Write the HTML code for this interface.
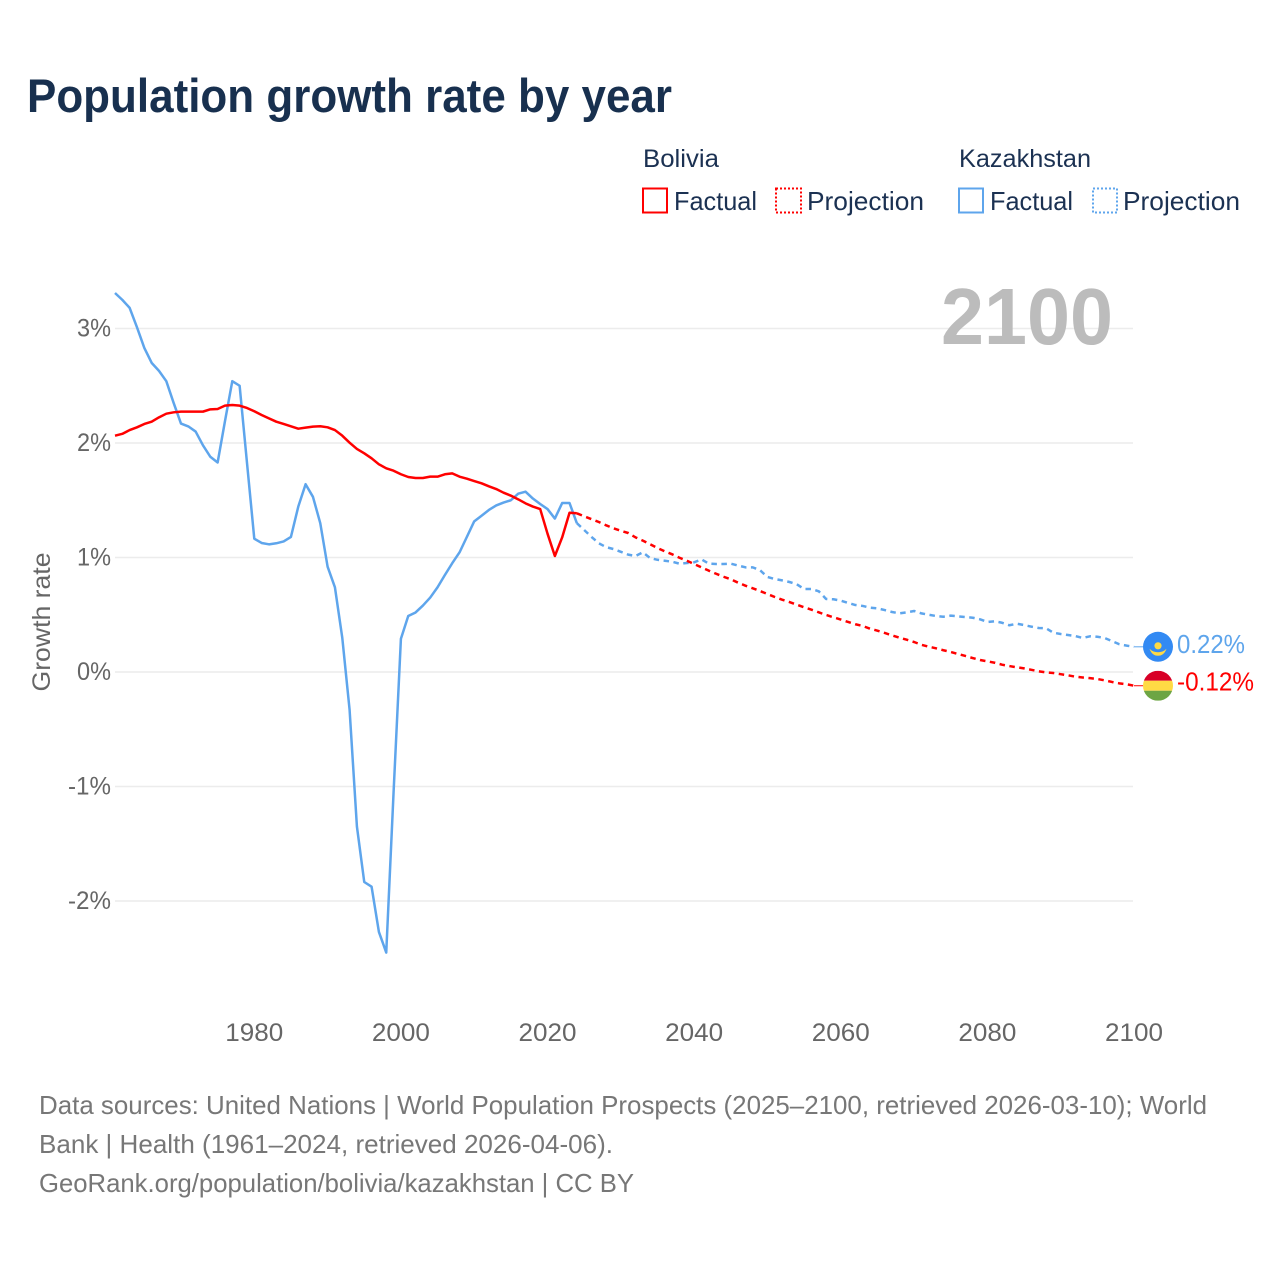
<!DOCTYPE html>
<html lang="en">
<head>
<meta charset="utf-8">
<title>Population growth rate by year</title>
<style>
html,body{margin:0;padding:0;background:#fff}
svg{display:block;font-family:"Liberation Sans",sans-serif}
</style>
</head>
<body>
<svg id="chart" xmlns="http://www.w3.org/2000/svg" width="1280" height="1280" viewBox="0 0 1280 1280">
  <rect width="1280" height="1280" fill="#fff"/>
  <text x="27" y="112" font-size="47" font-weight="700" fill="#18304f" textLength="645" lengthAdjust="spacingAndGlyphs">Population growth rate by year</text>

  <text x="643" y="167" font-size="25" fill="#1b3152" textLength="76" lengthAdjust="spacingAndGlyphs">Bolivia</text>
  <text x="959" y="167" font-size="25" fill="#1b3152" textLength="132" lengthAdjust="spacingAndGlyphs">Kazakhstan</text>
  <rect x="643" y="188.5" width="24" height="24" fill="none" stroke="#ff0000" stroke-width="2"/>
  <text x="674" y="210" font-size="26" fill="#1b3152" textLength="83" lengthAdjust="spacingAndGlyphs">Factual</text>
  <rect x="776" y="188.5" width="25" height="24" fill="none" stroke="#ff0000" stroke-width="2" stroke-dasharray="2,2"/>
  <text x="807" y="210" font-size="26" fill="#1b3152" textLength="117" lengthAdjust="spacingAndGlyphs">Projection</text>
  <rect x="959" y="188.5" width="24" height="24" fill="none" stroke="#5ea5ec" stroke-width="2"/>
  <text x="990" y="210" font-size="26" fill="#1b3152" textLength="83" lengthAdjust="spacingAndGlyphs">Factual</text>
  <rect x="1093" y="188.5" width="24" height="24" fill="none" stroke="#5ea5ec" stroke-width="2" stroke-dasharray="2,2"/>
  <text x="1123" y="210" font-size="26" fill="#1b3152" textLength="117" lengthAdjust="spacingAndGlyphs">Projection</text>

  <g id="grid"></g>
  <g id="axis-labels"></g>

  <text x="941" y="344" font-size="80" font-weight="700" fill="#bcbcbc" textLength="172" lengthAdjust="spacingAndGlyphs">2100</text>
  <text transform="translate(50,622) rotate(-90)" text-anchor="middle" font-size="25" fill="#666" textLength="139" lengthAdjust="spacingAndGlyphs">Growth rate</text>

  <g id="series"></g>

  <defs>
    <clipPath id="flag-clip-bo"><circle cx="0" cy="0" r="15"/></clipPath>
  </defs>
  <g id="flag-kz">
    <circle r="15" fill="#338af3"/>
    <circle cx="0" cy="-1" r="3.6" fill="#ffda44"/>
    <path d="M-8.5 2 Q-5 5.5 0 5.5 Q5 5.5 8.5 2 Q6 9 0 9 Q-6 9 -8.5 2Z" fill="#ffda44"/>
  </g>
  <g id="flag-bo">
    <g clip-path="url(#flag-clip-bo)">
      <rect x="-15" y="-15" width="30" height="10" fill="#d80027"/>
      <rect x="-15" y="-5" width="30" height="10" fill="#ffda44"/>
      <rect x="-15" y="5" width="30" height="10" fill="#6da544"/>
    </g>
  </g>
  <text id="value-kz" x="1177" font-size="25.5" fill="#5ea5ec" textLength="68" lengthAdjust="spacingAndGlyphs"></text>
  <text id="value-bo" x="1177" font-size="25.5" fill="#ff0000" textLength="77" lengthAdjust="spacingAndGlyphs"></text>

  <g font-size="26" fill="#777">
    <text x="39" y="1114" textLength="1168" lengthAdjust="spacingAndGlyphs">Data sources: United Nations | World Population Prospects (2025–2100, retrieved 2026-03-10); World</text>
    <text x="39" y="1153" textLength="574" lengthAdjust="spacingAndGlyphs">Bank | Health (1961–2024, retrieved 2026-04-06).</text>
    <text x="39" y="1192" textLength="595" lengthAdjust="spacingAndGlyphs">GeoRank.org/population/bolivia/kazakhstan | CC BY</text>
  </g>
</svg>
<script>
const xTickYears = [1980, 2000, 2020, 2040, 2060, 2080, 2100];
const yTickValues = [3, 2, 1, 0, -1, -2];
const factualStartYear = 1961;
const projectionStartYear = 2024;

const boliviaFactual = [
  2.064, 2.08, 2.113, 2.137, 2.166, 2.186, 2.224, 2.256, 2.268, 2.274,
  2.274, 2.274, 2.274, 2.294, 2.297, 2.326, 2.332, 2.326, 2.306, 2.277,
  2.245, 2.215, 2.186, 2.166, 2.146, 2.125, 2.134, 2.143, 2.146, 2.137,
  2.113, 2.064, 2.003, 1.948, 1.91, 1.866, 1.814, 1.779, 1.758, 1.727,
  1.703, 1.694, 1.694, 1.706, 1.706, 1.727, 1.735, 1.706, 1.688, 1.668,
  1.648, 1.622, 1.598, 1.566, 1.54, 1.508, 1.473, 1.445, 1.423, 1.208,
  1.013, 1.176, 1.391, 1.386
];
const boliviaProjection = [
  1.386, 1.36, 1.335, 1.31, 1.281, 1.255, 1.234, 1.214, 1.176, 1.147,
  1.115, 1.083, 1.054, 1.028, 0.998, 0.972, 0.943, 0.914, 0.885, 0.858,
  0.832, 0.81, 0.78, 0.754, 0.731, 0.707, 0.681, 0.655, 0.632, 0.611,
  0.588, 0.565, 0.544, 0.521, 0.498, 0.478, 0.458, 0.437, 0.417, 0.402,
  0.378, 0.361, 0.341, 0.32, 0.30, 0.282, 0.262, 0.238, 0.221, 0.207,
  0.19, 0.175, 0.157, 0.14, 0.122, 0.105, 0.093, 0.081, 0.064, 0.052,
  0.041, 0.032, 0.019, 0.006, -0.003, -0.009, -0.019, -0.029, -0.041, -0.048,
  -0.054, -0.061, -0.073, -0.087, -0.099, -0.107, -0.12
];
const kazakhstanFactual = [
  3.31, 3.25, 3.18, 3.01, 2.83, 2.70, 2.63, 2.54, 2.35, 2.17,
  2.145, 2.10, 1.98, 1.88, 1.83, 2.19, 2.54, 2.50, 1.83, 1.164,
  1.127, 1.115, 1.124, 1.14, 1.18, 1.444, 1.64, 1.53, 1.30, 0.92,
  0.74, 0.30, -0.33, -1.35, -1.834, -1.875, -2.27, -2.45, -1.05, 0.29,
  0.489, 0.52, 0.58, 0.65, 0.74, 0.847, 0.95, 1.045, 1.18, 1.316,
  1.365, 1.415, 1.455, 1.48, 1.50, 1.557, 1.575, 1.515, 1.467, 1.423,
  1.34, 1.476, 1.476, 1.30
];
const kazakhstanProjection = [
  1.30, 1.24, 1.18, 1.124, 1.09, 1.074, 1.05, 1.025, 1.013, 1.045,
  0.995, 0.98, 0.972, 0.963, 0.946, 0.952, 0.958, 0.984, 0.946, 0.943,
  0.943, 0.946, 0.93, 0.914, 0.914, 0.888, 0.83, 0.812, 0.80, 0.786,
  0.766, 0.725, 0.725, 0.705, 0.638, 0.635, 0.623, 0.603, 0.585, 0.577,
  0.562, 0.556, 0.541, 0.524, 0.512, 0.521, 0.533, 0.512, 0.50, 0.489,
  0.483, 0.492, 0.486, 0.48, 0.474, 0.46, 0.437, 0.443, 0.43, 0.408,
  0.422, 0.41, 0.396, 0.384, 0.382, 0.343, 0.332, 0.323, 0.314, 0.297,
  0.312, 0.308, 0.297, 0.27, 0.242, 0.23, 0.22
];

const svgNS = 'http://www.w3.org/2000/svg';
function xScale(year) { return 115 + (year - 1961) * (1134 - 115) / 139; }
function yScale(value) { return 672 - value * 114.5; }
function pathFrom(values, startYear) {
  return values.map(function (v, i) {
    return (i ? 'L' : 'M') + xScale(startYear + i).toFixed(2) + ' ' + yScale(v).toFixed(2);
  }).join('');
}
function formatPct(v) { return v + '%'; }

const gridGroup = document.getElementById('grid');
const labelGroup = document.getElementById('axis-labels');
const seriesGroup = document.getElementById('series');

yTickValues.forEach(function (v) {
  const line = document.createElementNS(svgNS, 'line');
  
  
  line.setAttribute('x1', 115);
  line.setAttribute('x2', 1133);
  line.setAttribute('y1', yScale(v));
  line.setAttribute('y2', yScale(v));
  line.setAttribute('stroke', '#ececec');
  line.setAttribute('stroke-width', '1.5');
  gridGroup.appendChild(line);

  const label = document.createElementNS(svgNS, 'text');
  
  
  label.setAttribute('x', 111);
  label.setAttribute('y', yScale(v) + 8);
  label.setAttribute('text-anchor', 'end');
  label.setAttribute('font-size', '25');
  label.setAttribute('fill', '#666');
  label.setAttribute('textLength', v < 0 ? 43 : 34);
  label.setAttribute('lengthAdjust', 'spacingAndGlyphs');
  label.textContent = formatPct(v);
  labelGroup.appendChild(label);
});

xTickYears.forEach(function (year) {
  const label = document.createElementNS(svgNS, 'text');
  
  
  label.setAttribute('x', xScale(year));
  label.setAttribute('y', 1041);
  label.setAttribute('text-anchor', 'middle');
  label.setAttribute('font-size', '25');
  label.setAttribute('fill', '#666');
  label.setAttribute('textLength', 58);
  label.setAttribute('lengthAdjust', 'spacingAndGlyphs');
  label.textContent = year;
  labelGroup.appendChild(label);
});

function addLine(name, values, startYear, colour, dashed) {
  const path = document.createElementNS(svgNS, 'path');
  
  
  path.setAttribute('d', pathFrom(values, startYear));
  path.setAttribute('fill', 'none');
  path.setAttribute('stroke', colour);
  path.setAttribute('stroke-width', '2.5');
  path.setAttribute('stroke-linejoin', 'round');
  if (dashed) path.setAttribute('stroke-dasharray', '5.5,4.5');
  seriesGroup.appendChild(path);
}
addLine('kazakhstan-projection-line', kazakhstanProjection, projectionStartYear, '#5ea5ec', true);
addLine('kazakhstan-factual-line', kazakhstanFactual, factualStartYear, '#5ea5ec', false);
addLine('bolivia-projection-line', boliviaProjection, projectionStartYear, '#ff0000', true);
addLine('bolivia-factual-line', boliviaFactual, factualStartYear, '#ff0000', false);

function addEndMarker(name, values, colour, flagId, valueId, labelOffset) {
  const last = values[values.length - 1];
  const y = yScale(last);
  const connector = document.createElementNS(svgNS, 'line');
  
  
  connector.setAttribute('x1', 1134);
  connector.setAttribute('x2', 1143);
  connector.setAttribute('y1', y);
  connector.setAttribute('y2', y);
  connector.setAttribute('stroke', colour);
  connector.setAttribute('stroke-width', '1');
  seriesGroup.appendChild(connector);
  document.getElementById(flagId).setAttribute('transform', 'translate(1158,' + y + ')');
  const valueText = document.getElementById(valueId);
  valueText.setAttribute('y', y + labelOffset);
  valueText.textContent = last.toFixed(2) + '%';
}
addEndMarker('kazakhstan-end-connector', kazakhstanProjection, '#5ea5ec', 'flag-kz', 'value-kz', 6);
addEndMarker('bolivia-end-connector', boliviaProjection, '#ff0000', 'flag-bo', 'value-bo', 5);
</script>
</body>
</html>
